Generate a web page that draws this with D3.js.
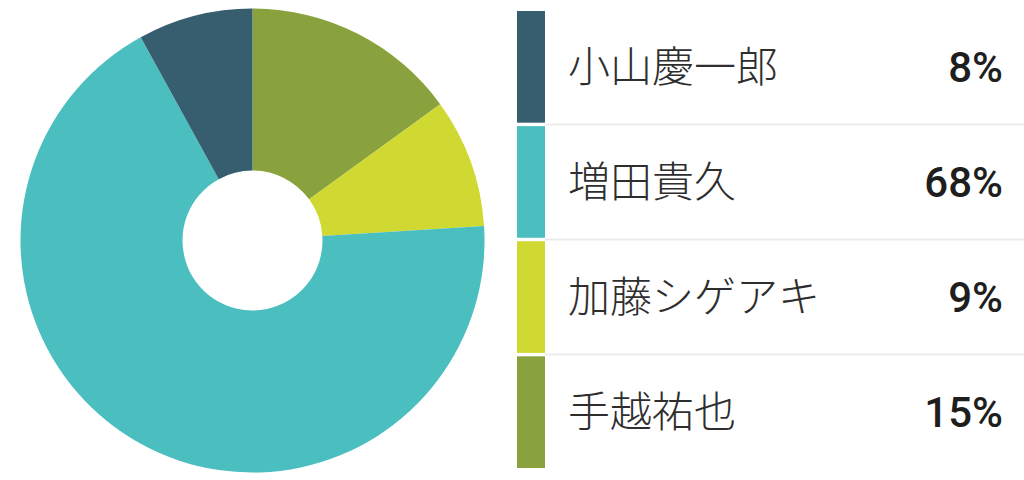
<!DOCTYPE html>
<html><head><meta charset="utf-8">
<script src="https://cdn.jsdelivr.net/npm/d3@7"></script>
<style>html,body{margin:0;padding:0;background:#fff;}svg{display:block;}</style>
</head><body>
<svg id="c" width="1024" height="480"></svg>
<script>
const names = ["小山慶一郎", "増田貴久", "加藤シゲアキ", "手越祐也"];
const values = [8, 68, 9, 15];
const colors = ["#375e6e", "#4bbec0", "#d0d832", "#89a23d"];
const pieOrder = [3, 2, 1, 0]; // drawn clockwise from 12 o'clock

const svg = d3.select("#c");
const cx = 252.5, cy = 240.5, R = 232, r = 70;

const pie = d3.pie().sort(null).value(i => values[i]);
const arc = d3.arc().innerRadius(r).outerRadius(R);
svg.append("g").attr("transform", `translate(${cx},${cy})`)
  .selectAll("path").data(pie(pieOrder)).join("path")
  .attr("d", arc).attr("fill", d => colors[d.data]);

// legend
const y = d3.scaleBand().domain(d3.range(names.length)).range([11, 468]).paddingInner(0.03);
const lg = svg.append("g");
const rows = lg.selectAll("g").data(d3.range(names.length)).join("g")
  .attr("transform", i => `translate(0,${y(i)})`);
rows.append("rect").attr("x", 517).attr("width", 28).attr("height", y.bandwidth())
  .attr("fill", i => colors[i]);
rows.append("text").attr("x", 568).attr("y", y.bandwidth() / 2).attr("dy", "0.36em")
  .attr("font-family", "'Noto Sans CJK JP', sans-serif").attr("font-weight", 300).attr("font-size", 42)
  .attr("fill", "#2e2e2e").text(i => names[i]);
rows.append("text").attr("x", 1003).attr("y", y.bandwidth() / 2).attr("dy", "0.36em")
  .attr("text-anchor", "end")
  .attr("font-family", "Roboto, sans-serif").attr("font-weight", 500).attr("font-size", 42)
  .attr("fill", "#1e1e1e").text(i => values[i] + "%");
lg.selectAll("line").data(d3.range(1, names.length)).join("line")
  .attr("x1", 545).attr("x2", 1024)
  .attr("y1", i => y(i) - y.step() * y.paddingInner() / 2)
  .attr("y2", i => y(i) - y.step() * y.paddingInner() / 2)
  .attr("stroke", "#ebebeb").attr("stroke-width", 2);
</script>
</body></html>
